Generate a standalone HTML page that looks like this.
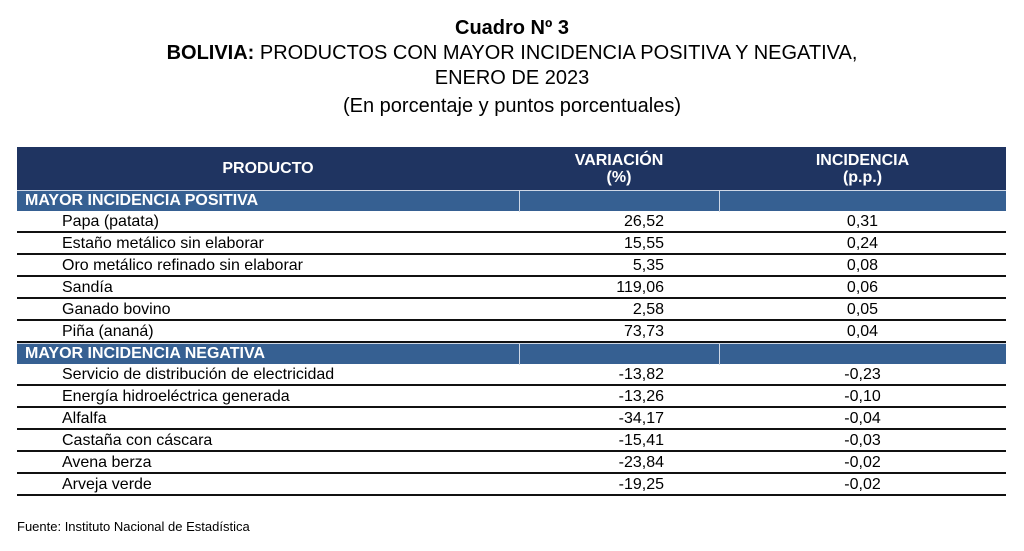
<!DOCTYPE html>
<html><head><meta charset="utf-8"><style>
body{margin:0;width:1024px;height:551px;background:#fff;font-family:"Liberation Sans",sans-serif;color:#000;position:relative;overflow:hidden}
.t{position:absolute;left:0;width:1024px;text-align:center;font-size:20px;line-height:24px}
.tbl{position:absolute;left:17px;top:147px;width:989px}
.hd{position:absolute;left:0;top:0;width:989px;height:43px;background:#1f3461;color:#fff;font-weight:bold;font-size:16px}
.hd div{position:absolute;top:0;height:43px;display:flex;align-items:center;justify-content:center;text-align:center;line-height:17px}
.sec{position:absolute;left:0;width:989px;height:20px;background:#366092;color:#fff;font-weight:bold;font-size:16px;line-height:20px;border-top:1px solid #cfd8e6}
.vl{position:absolute;top:0;width:1px;background:#cfd8e6}
.row{position:absolute;left:0;width:989px;height:22px;font-size:16px;line-height:22px;border-bottom:2px solid #111;box-sizing:border-box}
.row .n{position:absolute;left:45px}
.row .v{position:absolute;right:342px}
.row .i{position:absolute;left:702px;width:287px;text-align:center}
</style></head><body>
<div class="t" style="top:16px;font-weight:bold">Cuadro Nº 3</div>
<div class="t" style="top:41px"><b>BOLIVIA:</b> PRODUCTOS CON MAYOR INCIDENCIA POSITIVA Y NEGATIVA,</div>
<div class="t" style="top:66px">ENERO DE 2023</div>
<div class="t" style="top:94px">(En porcentaje y puntos porcentuales)</div>
<div class="tbl" id="tbl">
 <div class="hd">
  <div style="left:0;width:502px">PRODUCTO</div>
  <div style="left:502px;width:200px">VARIACIÓN<br>(%)</div>
  <div style="left:702px;width:287px">INCIDENCIA<br>(p.p.)</div>
 </div>
</div>
<div style="position:absolute;left:17px;top:519px;font-size:13px">Fuente: Instituto Nacional de Estadística</div>
<script>
const sections=["MAYOR INCIDENCIA POSITIVA","MAYOR INCIDENCIA NEGATIVA"];
const posNames=["Papa (patata)","Estaño metálico sin elaborar","Oro metálico refinado sin elaborar","Sandía","Ganado bovino","Piña (ananá)"];
const posVar=["26,52","15,55","5,35","119,06","2,58","73,73"];
const posInc=["0,31","0,24","0,08","0,06","0,05","0,04"];
const negNames=["Servicio de distribución de electricidad","Energía hidroeléctrica generada","Alfalfa","Castaña con cáscara","Avena berza","Arveja verde"];
const negVar=["-13,82","-13,26","-34,17","-15,41","-23,84","-19,25"];
const negInc=["-0,23","-0,10","-0,04","-0,03","-0,02","-0,02"];
const tbl=document.getElementById('tbl');
let y=43;
[[posNames,posVar,posInc],[negNames,negVar,negInc]].forEach((g,si)=>{
 const s=document.createElement('div');s.className='sec';s.style.top=y+'px';
 
 
 s.innerHTML='<span style="padding-left:8px">'+sections[si]+'</span><div class="vl" style="left:502px;height:21px"></div><div class="vl" style="left:702px;height:21px"></div>';
 tbl.appendChild(s);y+=21;
 g[0].forEach((nm,k)=>{
  const r=document.createElement('div');r.className='row';r.style.top=y+'px';
  
  
  r.innerHTML='<span class="n">'+nm+'</span><span class="v">'+g[1][k]+'</span><span class="i">'+g[2][k]+'</span>';
  tbl.appendChild(r);y+=22;
 });
});
</script>
</body></html>
